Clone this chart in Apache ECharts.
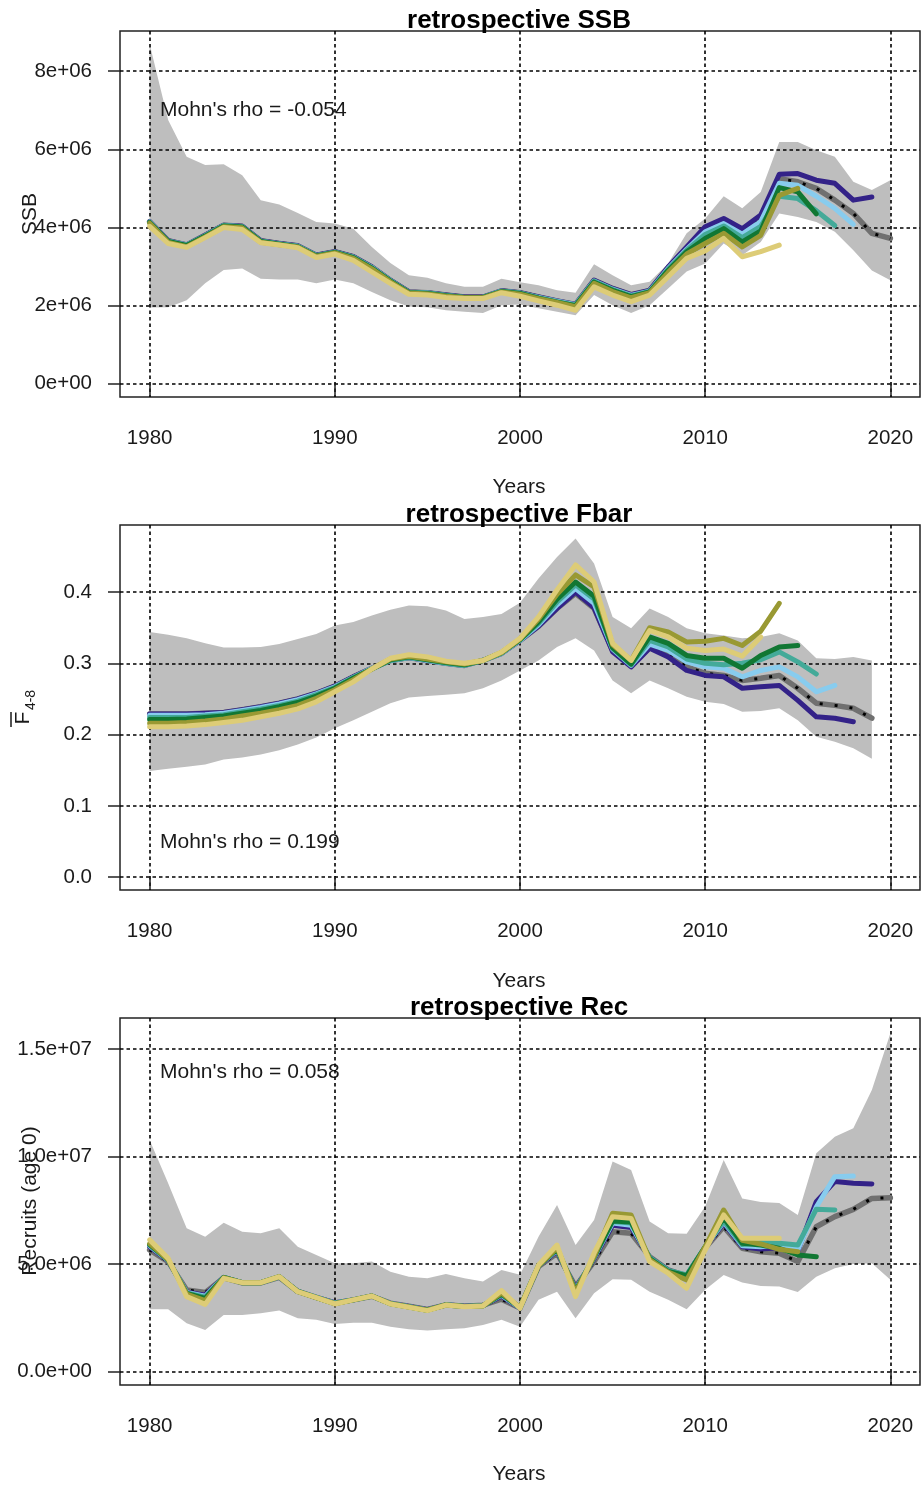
<!DOCTYPE html>
<html><head><meta charset="utf-8">
<script src="https://cdn.jsdelivr.net/npm/echarts@6/dist/echarts.min.js"></script>
<style>html,body{margin:0;padding:0;background:#fff}#c{width:921px;height:1488px}</style>
</head><body><div id="c"></div>
<script>
const years = [1980,1981,1982,1983,1984,1985,1986,1987,1988,1989,1990,1991,1992,1993,1994,1995,1996,1997,1998,1999,2000,2001,2002,2003,2004,2005,2006,2007,2008,2009,2010,2011,2012,2013,2014,2015,2016,2017,2018,2019,2020];
const xTicks = [1980,1990,2000,2010,2020];
const ssbTicks = [0,2e6,4e6,6e6,8e6];
const ssbTickLabels = ['0e+00','2e+06','4e+06','6e+06','8e+06'];
const fbarTicks = [0,0.1,0.2,0.3,0.4];
const fbarTickLabels = ['0.0','0.1','0.2','0.3','0.4'];
const recTicks = [0,5e6,1e7,1.5e7];
const recTickLabels = ['0.0e+00','5.0e+06','1.0e+07','1.5e+07'];
const titles = ['retrospective SSB','retrospective Fbar','retrospective Rec'];
const rhoTexts = ["Mohn's rho = -0.054","Mohn's rho = 0.199","Mohn's rho = 0.058"];
const peelColors = ['#332288','#88CCEE','#44AA99','#117733','#999933','#DDCC77'];

// ---------- SSB ----------
const ssbFull = [4.15e6,3.66e6,3.55e6,3.80e6,4.06e6,4.03e6,3.66e6,3.59e6,3.53e6,3.29e6,3.38e6,3.25e6,2.99e6,2.65e6,2.35e6,2.33e6,2.27e6,2.22e6,2.22e6,2.38e6,2.33e6,2.22e6,2.12e6,2.03e6,2.65e6,2.44e6,2.28e6,2.39e6,2.97e6,3.47e6,3.96e6,4.17e6,3.90e6,4.25e6,5.25e6,5.17e6,5.00e6,4.70e6,4.36e6,3.85e6,3.72e6];
const ssbPeel1 = [4.15e6,3.66e6,3.55e6,3.80e6,4.06e6,4.03e6,3.66e6,3.59e6,3.53e6,3.29e6,3.38e6,3.25e6,2.99e6,2.65e6,2.35e6,2.33e6,2.27e6,2.22e6,2.22e6,2.38e6,2.33e6,2.22e6,2.12e6,2.03e6,2.65e6,2.44e6,2.28e6,2.39e6,2.99e6,3.50e6,4.02e6,4.23e6,3.97e6,4.32e6,5.36e6,5.38e6,5.21e6,5.13e6,4.70e6,4.78e6];
const ssbPeel2 = [4.14e6,3.65e6,3.55e6,3.79e6,4.05e6,4.02e6,3.65e6,3.58e6,3.52e6,3.28e6,3.37e6,3.24e6,2.98e6,2.64e6,2.34e6,2.32e6,2.26e6,2.21e6,2.21e6,2.37e6,2.32e6,2.21e6,2.11e6,2.02e6,2.63e6,2.42e6,2.26e6,2.37e6,2.95e6,3.44e6,3.89e6,4.10e6,3.83e6,4.15e6,5.13e6,5.08e6,4.80e6,4.49e6,4.08e6];
const ssbPeel3 = [4.13e6,3.65e6,3.54e6,3.79e6,4.05e6,4.02e6,3.65e6,3.58e6,3.52e6,3.28e6,3.37e6,3.24e6,2.97e6,2.64e6,2.34e6,2.32e6,2.26e6,2.21e6,2.21e6,2.37e6,2.32e6,2.20e6,2.10e6,2.01e6,2.62e6,2.41e6,2.25e6,2.36e6,2.93e6,3.42e6,3.82e6,4.04e6,3.74e6,4.03e6,4.80e6,4.74e6,4.43e6,4.05e6];
const ssbPeel4 = [4.13e6,3.64e6,3.54e6,3.78e6,4.04e6,4.01e6,3.64e6,3.57e6,3.51e6,3.27e6,3.36e6,3.23e6,2.96e6,2.63e6,2.33e6,2.31e6,2.25e6,2.21e6,2.21e6,2.36e6,2.31e6,2.19e6,2.09e6,2.00e6,2.60e6,2.39e6,2.23e6,2.35e6,2.90e6,3.38e6,3.72e6,3.97e6,3.63e6,3.91e6,5.02e6,4.91e6,4.35e6];
const ssbPeel5 = [4.11e6,3.62e6,3.51e6,3.76e6,4.02e6,3.99e6,3.62e6,3.56e6,3.50e6,3.26e6,3.35e6,3.21e6,2.94e6,2.61e6,2.32e6,2.30e6,2.24e6,2.20e6,2.20e6,2.35e6,2.29e6,2.18e6,2.08e6,1.97e6,2.57e6,2.36e6,2.20e6,2.33e6,2.85e6,3.32e6,3.59e6,3.85e6,3.50e6,3.80e6,4.82e6,5.00e6];
const ssbPeel6 = [4.03e6,3.59e6,3.49e6,3.74e6,4.00e6,3.95e6,3.61e6,3.55e6,3.48e6,3.23e6,3.32e6,3.16e6,2.86e6,2.57e6,2.29e6,2.27e6,2.21e6,2.18e6,2.18e6,2.33e6,2.24e6,2.12e6,2.01e6,1.88e6,2.48e6,2.27e6,2.10e6,2.27e6,2.74e6,3.21e6,3.40e6,3.72e6,3.25e6,3.38e6,3.55e6];
const ssbUpper = [8.70e6,6.75e6,5.81e6,5.60e6,5.62e6,5.34e6,4.70e6,4.59e6,4.37e6,4.14e6,4.10e6,3.97e6,3.50e6,3.09e6,2.78e6,2.71e6,2.57e6,2.48e6,2.48e6,2.69e6,2.60e6,2.52e6,2.39e6,2.33e6,3.06e6,2.78e6,2.52e6,2.61e6,3.08e6,3.85e6,4.23e6,4.80e6,4.49e6,4.91e6,6.19e6,6.19e6,5.98e6,5.81e6,5.17e6,4.96e6,5.21e6];
const ssbLower = [1.95e6,1.96e6,2.14e6,2.57e6,2.91e6,2.95e6,2.69e6,2.67e6,2.67e6,2.57e6,2.67e6,2.57e6,2.35e6,2.14e6,1.98e6,1.96e6,1.88e6,1.84e6,1.81e6,2.01e6,2.03e6,1.93e6,1.84e6,1.75e6,2.27e6,2.01e6,1.81e6,2.01e6,2.44e6,2.87e6,3.08e6,3.59e6,3.29e6,3.63e6,4.36e6,4.27e6,4.14e6,3.89e6,3.42e6,2.90e6,2.65e6];

// ---------- Fbar ----------
const fFull = [0.229,0.229,0.229,0.230,0.231,0.235,0.239,0.244,0.250,0.258,0.268,0.281,0.293,0.304,0.308,0.304,0.300,0.297,0.304,0.314,0.332,0.352,0.377,0.398,0.377,0.318,0.297,0.322,0.312,0.295,0.286,0.283,0.276,0.279,0.283,0.265,0.244,0.241,0.237,0.223];
const fPeel1 = [0.229,0.229,0.229,0.230,0.231,0.235,0.239,0.244,0.250,0.258,0.268,0.281,0.293,0.304,0.308,0.304,0.300,0.297,0.304,0.314,0.332,0.352,0.377,0.400,0.378,0.316,0.295,0.321,0.309,0.290,0.283,0.281,0.265,0.267,0.269,0.248,0.225,0.223,0.218];
const fPeel2 = [0.227,0.227,0.227,0.228,0.230,0.234,0.238,0.243,0.249,0.257,0.267,0.280,0.293,0.304,0.308,0.304,0.300,0.297,0.304,0.314,0.332,0.354,0.382,0.405,0.384,0.320,0.297,0.327,0.318,0.302,0.295,0.293,0.281,0.290,0.295,0.281,0.260,0.269];
const fPeel3 = [0.224,0.224,0.224,0.226,0.228,0.232,0.236,0.241,0.247,0.256,0.266,0.280,0.292,0.304,0.308,0.305,0.300,0.297,0.304,0.314,0.333,0.356,0.386,0.410,0.390,0.321,0.298,0.332,0.323,0.306,0.300,0.298,0.300,0.305,0.316,0.302,0.285];
const fPeel4 = [0.221,0.221,0.222,0.224,0.226,0.230,0.234,0.239,0.245,0.254,0.265,0.279,0.292,0.305,0.309,0.305,0.301,0.298,0.304,0.315,0.333,0.358,0.390,0.414,0.394,0.322,0.299,0.337,0.328,0.311,0.307,0.307,0.293,0.311,0.323,0.325];
const fPeel5 = [0.216,0.216,0.217,0.219,0.222,0.226,0.230,0.235,0.241,0.251,0.263,0.277,0.292,0.306,0.310,0.306,0.302,0.299,0.304,0.315,0.334,0.362,0.397,0.424,0.407,0.326,0.304,0.350,0.344,0.330,0.331,0.335,0.325,0.345,0.384];
const fPeel6 = [0.211,0.211,0.212,0.214,0.217,0.220,0.225,0.230,0.236,0.246,0.260,0.274,0.292,0.307,0.312,0.309,0.303,0.300,0.304,0.316,0.335,0.365,0.403,0.438,0.414,0.328,0.304,0.346,0.337,0.321,0.318,0.320,0.310,0.337];
const fUpper = [0.344,0.340,0.335,0.328,0.322,0.322,0.323,0.327,0.334,0.341,0.353,0.358,0.367,0.375,0.381,0.380,0.374,0.362,0.365,0.369,0.385,0.419,0.449,0.475,0.440,0.365,0.349,0.377,0.365,0.349,0.342,0.339,0.335,0.337,0.342,0.332,0.307,0.306,0.309,0.304];
const fLower = [0.149,0.152,0.155,0.158,0.165,0.168,0.172,0.178,0.186,0.196,0.209,0.220,0.232,0.244,0.252,0.254,0.256,0.258,0.265,0.276,0.290,0.304,0.323,0.335,0.318,0.276,0.258,0.276,0.265,0.253,0.246,0.243,0.232,0.233,0.237,0.220,0.197,0.190,0.181,0.166];

// ---------- Recruitment ----------
const recFull = [5.65e6,5.11e6,3.79e6,3.67e6,4.35e6,4.12e6,4.12e6,4.38e6,3.72e6,3.45e6,3.18e6,3.33e6,3.50e6,3.18e6,3.03e6,2.88e6,3.10e6,3.03e6,3.08e6,3.36e6,2.95e6,4.88e6,5.50e6,3.95e6,5.11e6,6.50e6,6.43e6,5.34e6,4.72e6,4.45e6,5.75e6,6.73e6,5.73e6,5.57e6,5.50e6,5.11e6,6.73e6,7.20e6,7.54e6,8.05e6,8.08e6];
const recPeel1 = [5.80e6,5.15e6,3.70e6,3.55e6,4.38e6,4.13e6,4.13e6,4.40e6,3.72e6,3.45e6,3.20e6,3.33e6,3.51e6,3.16e6,3.02e6,2.87e6,3.10e6,3.03e6,3.07e6,3.50e6,2.95e6,4.92e6,5.60e6,3.85e6,5.25e6,6.80e6,6.70e6,5.30e6,4.70e6,4.45e6,5.78e6,6.90e6,5.80e6,5.70e6,5.75e6,5.60e6,7.90e6,8.83e6,8.75e6,8.72e6];
const recPeel2 = [5.85e6,5.17e6,3.68e6,3.50e6,4.38e6,4.13e6,4.13e6,4.40e6,3.72e6,3.44e6,3.18e6,3.33e6,3.51e6,3.16e6,3.01e6,2.86e6,3.10e6,3.02e6,3.06e6,3.55e6,2.96e6,4.93e6,5.65e6,3.80e6,5.30e6,6.90e6,6.80e6,5.28e6,4.68e6,4.45e6,5.80e6,6.95e6,5.85e6,5.80e6,5.88e6,5.65e6,7.65e6,9.06e6,9.09e6];
const recPeel3 = [5.88e6,5.18e6,3.65e6,3.45e6,4.37e6,4.13e6,4.13e6,4.40e6,3.72e6,3.44e6,3.17e6,3.33e6,3.51e6,3.15e6,3.01e6,2.85e6,3.10e6,3.02e6,3.06e6,3.58e6,2.96e6,4.93e6,5.68e6,3.78e6,5.32e6,6.97e6,6.90e6,5.30e6,4.70e6,4.49e6,5.80e6,7.00e6,5.90e6,5.99e6,5.96e6,5.88e6,7.55e6,7.51e6];
const recPeel4 = [5.90e6,5.19e6,3.63e6,3.40e6,4.37e6,4.13e6,4.13e6,4.41e6,3.72e6,3.43e6,3.16e6,3.33e6,3.51e6,3.15e6,3.00e6,2.85e6,3.09e6,3.02e6,3.05e6,3.60e6,2.97e6,4.92e6,5.70e6,3.75e6,5.33e6,7.00e6,6.95e6,5.25e6,4.65e6,4.45e6,5.80e6,7.15e6,5.96e6,5.88e6,5.73e6,5.42e6,5.34e6];
const recPeel5 = [5.95e6,5.20e6,3.60e6,3.30e6,4.36e6,4.13e6,4.13e6,4.41e6,3.71e6,3.43e6,3.15e6,3.33e6,3.51e6,3.15e6,3.00e6,2.85e6,3.09e6,3.02e6,3.05e6,3.65e6,2.98e6,4.92e6,5.75e6,3.70e6,5.35e6,7.36e6,7.28e6,5.20e6,4.62e6,4.26e6,5.80e6,7.51e6,6.10e6,5.93e6,5.68e6,5.57e6];
const recPeel6 = [6.12e6,5.26e6,3.48e6,3.12e6,4.33e6,4.13e6,4.13e6,4.41e6,3.71e6,3.43e6,3.14e6,3.33e6,3.51e6,3.14e6,2.99e6,2.83e6,3.09e6,3.01e6,3.05e6,3.76e6,2.94e6,4.95e6,5.88e6,3.48e6,5.50e6,7.20e6,7.12e6,5.11e6,4.57e6,3.87e6,5.65e6,7.28e6,6.20e6,6.20e6,6.20e6];
const recUpper = [10.77e6,8.75e6,6.66e6,6.27e6,6.92e6,6.50e6,6.43e6,6.66e6,5.80e6,5.42e6,5.03e6,5.03e6,5.11e6,4.64e6,4.41e6,4.33e6,4.53e6,4.33e6,4.18e6,4.72e6,4.50e6,6.27e6,7.74e6,5.88e6,7.05e6,9.76e6,9.37e6,6.97e6,6.43e6,6.40e6,7.67e6,9.84e6,8.05e6,7.88e6,7.84e6,7.28e6,10.15e6,10.92e6,11.31e6,13.09e6,15.73e6];
const recLower = [2.89e6,2.89e6,2.24e6,1.93e6,2.63e6,2.63e6,2.71e6,2.83e6,2.47e6,2.40e6,2.21e6,2.27e6,2.27e6,2.08e6,1.96e6,1.90e6,1.96e6,2.01e6,2.16e6,2.40e6,2.08e6,3.33e6,3.71e6,2.47e6,3.64e6,4.29e6,4.26e6,3.71e6,3.33e6,2.89e6,3.80e6,4.49e6,4.14e6,3.97e6,3.95e6,3.69e6,4.41e6,4.80e6,5.00e6,5.03e6,4.26e6];

const FONT = '"Liberation Sans", Arial, sans-serif';
const TXT = '#1a1a1a';

const panels = [
  {top:31, height:366, min:-0.34e6, max:9.03e6, ticks:ssbTicks, labels:ssbTickLabels,
   full:ssbFull, peels:[ssbPeel1,ssbPeel2,ssbPeel3,ssbPeel4,ssbPeel5,ssbPeel6], upper:ssbUpper, lower:ssbLower},
  {top:525, height:365, min:-0.018, max:0.494, ticks:fbarTicks, labels:fbarTickLabels,
   full:fFull, peels:[fPeel1,fPeel2,fPeel3,fPeel4,fPeel5,fPeel6], upper:fUpper, lower:fLower},
  {top:1018, height:367, min:-0.63e6, max:16.44e6, ticks:recTicks, labels:recTickLabels,
   full:recFull, peels:[recPeel1,recPeel2,recPeel3,recPeel4,recPeel5,recPeel6], upper:recUpper, lower:recLower}
];

const grids = [], xAxes = [], yAxes = [], series = [];
const tickStyle = {color:'#222', width:1.5};
const splitStyle = {color:'#000', width:1.6, type:[3.5,3]};

panels.forEach((p, k) => {
  grids.push({left:120, width:800, top:p.top, height:p.height, show:true, borderColor:'#222', borderWidth:1.5, containLabel:false});
  xAxes.push({gridIndex:k, type:'value', min:1978.4, max:2021.6,
    axisLine:{show:false},
    axisTick:{show:true, length:12, lineStyle:tickStyle, customValues:xTicks},
    axisLabel:{customValues:xTicks, formatter:v=>String(v), fontSize:20.5, color:TXT, fontFamily:FONT, margin:31},
    splitLine:{show:true, lineStyle:splitStyle}});
  yAxes.push({gridIndex:k, type:'value', min:p.min, max:p.max,
    axisLine:{show:false},
    axisTick:{show:true, length:12, lineStyle:tickStyle, customValues:p.ticks},
    axisLabel:{customValues:p.ticks, formatter:v=>p.labels[p.ticks.indexOf(v)], fontSize:20.5, color:TXT, fontFamily:FONT, margin:28},
    splitLine:{show:true, lineStyle:splitStyle}});
  const up = p.upper, lo = p.lower;
  series.push({type:'custom', xAxisIndex:k, yAxisIndex:k, z:-1, silent:true, animation:false, clip:true,
    data: lo.map((v,i)=>[years[i], v, up[i]]),
    encode:{x:0, y:[1,2]},
    renderItem:function(params, api){
      if (params.dataIndex !== 0) return null;
      const pts = [];
      for (let i=0;i<up.length;i++) pts.push(api.coord([years[i], up[i]]));
      for (let i=lo.length-1;i>=0;i--) pts.push(api.coord([years[i], lo[i]]));
      return {type:'polygon', shape:{points:pts}, style:{fill:'#bebebe'}};
    }});
  const pairs = vals => vals.map((v,i)=>[years[i], v]);
  series.push({type:'line', xAxisIndex:k, yAxisIndex:k, data:pairs(p.full), symbol:'none', silent:true, animation:false,
    lineStyle:{color:'#707070', width:5.5, cap:'round', join:'round'}});
  series.push({type:'line', xAxisIndex:k, yAxisIndex:k, data:pairs(p.full), symbol:'none', silent:true, animation:false,
    lineStyle:{color:'#000', width:3, cap:'butt', join:'round', type:[3,12]}});
  p.peels.forEach((vals, j) => {
    series.push({type:'line', xAxisIndex:k, yAxisIndex:k, data:pairs(vals), symbol:'none', silent:true, animation:false,
      lineStyle:{color:peelColors[j], width:5, cap:'round', join:'round'}});
  });
});

const graphics = [];
const titleY = [21, 515, 1008];
const yearsY = [487, 981, 1474];
const rhoY = [110, 842, 1072];
for (let k=0;k<3;k++){
  graphics.push({type:'text', x:519, y:titleY[k], z:10, style:{text:titles[k], align:'center', verticalAlign:'middle', font:'bold 26px '+FONT, fill:'#000'}});
  graphics.push({type:'text', x:519, y:yearsY[k], style:{text:'Years', align:'center', verticalAlign:'middle', font:'21px '+FONT, fill:TXT}});
  graphics.push({type:'text', x:160, y:rhoY[k], style:{text:rhoTexts[k], align:'left', verticalAlign:'middle', font:'21px '+FONT, fill:TXT}});
}
graphics.push({type:'text', x:30, y:214, rotation:Math.PI/2, style:{text:'SSB', align:'center', verticalAlign:'middle', font:'21px '+FONT, fill:TXT}});
graphics.push({type:'text', x:30, y:1201, rotation:Math.PI/2, style:{text:'Recruits (age 0)', align:'center', verticalAlign:'middle', font:'21px '+FONT, fill:TXT}});
graphics.push({type:'text', x:23, y:718, rotation:Math.PI/2, style:{text:'F', align:'center', verticalAlign:'middle', font:'21px '+FONT, fill:TXT}});
graphics.push({type:'text', x:31, y:700, rotation:Math.PI/2, style:{text:'4-8', align:'center', verticalAlign:'middle', font:'14px '+FONT, fill:TXT}});
graphics.push({type:'line', shape:{x1:11, y1:712, x2:11, y2:727}, style:{stroke:TXT, lineWidth:1.5}});

const chart = echarts.init(document.getElementById('c'), null, {renderer:'canvas'});
chart.setOption({
  animation:false,
  textStyle:{fontFamily:FONT},
  grid:grids, xAxis:xAxes, yAxis:yAxes, series:series, graphic:graphics
});
</script></body></html>
